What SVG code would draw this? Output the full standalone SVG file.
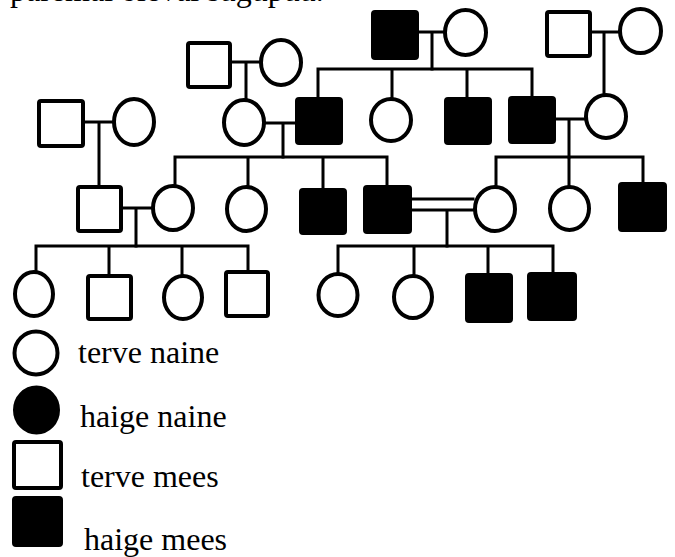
<svg xmlns="http://www.w3.org/2000/svg" width="675" height="557" viewBox="0 0 675 557">
  <style>
    .f { fill: #fff; stroke: #000; stroke-width: 4; }
    .a { fill: #000; stroke: #000; stroke-width: 4; }
    .m { fill: #fff; stroke: #000; stroke-width: 4; }
    .ma { fill: #000; stroke: #000; stroke-width: 4; }
    .ln { stroke: #000; stroke-width: 3; fill: none; stroke-linecap: square; }
    .t { font-family: "Liberation Serif", "Times New Roman", serif; font-size: 32px; fill: #000; }
  </style>
  <rect width="675" height="557" fill="#fff"/>

  <!-- heading line, cut off at the top edge -->
  <text class="t" x="10" y="1">paremal oleval sugupuu.</text>

  <!-- connectors -->
  <g id="connectors">
    <!-- generation I couples -->
    <path class="ln" d="M419 32H443M432 32V69"/>
    <path class="ln" d="M592 32H618M604 32V93"/>
    <path class="ln" d="M232 62H259M246 62V98"/>
    <path class="ln" d="M85 122H112M99 122V185"/>
    <!-- sibship of the top couple -->
    <path class="ln" d="M318 69H532M318 69V97M392 69V97M467 69V97M532 69V96"/>
    <!-- generation II couples and sibships -->
    <path class="ln" d="M266 123H295M283 123V157"/>
    <path class="ln" d="M175 157H387M175 157V184M248 157V185M323 157V188M387 157V185"/>
    <path class="ln" d="M556 119H584M569 119V157"/>
    <path class="ln" d="M496 157H643M496 157V185M569 157V185M643 157V182"/>
    <!-- generation III couples and sibships -->
    <path class="ln" d="M123 208H151M136 208V246"/>
    <path class="ln" d="M36 246H248M36 246V270M109 246V274M182 246V274M248 246V270"/>
    <!-- consanguineous marriage -->
    <path class="ln" d="M412 199H473M412 210H473M447 210V246"/>
    <path class="ln" d="M338 246H553M338 246V272M414 246V274M488 246V273M553 246V272"/>
  </g>

  <!-- generation I -->
  <g id="m1"><rect class="ma" x="373" y="12" width="44" height="46" rx="2"/></g>
  <g id="f1"><ellipse class="f" cx="465.5" cy="32.5" rx="20.5" ry="22.5"/></g>
  <g id="m2"><rect class="m" x="547" y="12" width="43" height="44" rx="2"/></g>
  <g id="f2"><ellipse class="f" cx="640.5" cy="31" rx="20.5" ry="22"/></g>
  <g id="m3"><rect class="m" x="188" y="43" width="42" height="44" rx="2"/></g>
  <g id="f3"><ellipse class="f" cx="281" cy="62.5" rx="20" ry="22.5"/></g>
  <g id="m4"><rect class="m" x="39" y="101" width="44" height="45" rx="2"/></g>
  <g id="f4"><ellipse class="f" cx="134" cy="122" rx="20" ry="23"/></g>

  <!-- generation II -->
  <g id="f5"><ellipse class="f" cx="244" cy="122.5" rx="20" ry="22.5"/></g>
  <g id="m5"><rect class="ma" x="297" y="99" width="44" height="44" rx="2"/></g>
  <g id="f6"><ellipse class="f" cx="391" cy="120" rx="20" ry="21"/></g>
  <g id="m6"><rect class="ma" x="446" y="99" width="44" height="44" rx="2"/></g>
  <g id="m7"><rect class="ma" x="510" y="98" width="44" height="44" rx="2"/></g>
  <g id="f7"><ellipse class="f" cx="606" cy="116.5" rx="20" ry="21.5"/></g>

  <!-- generation III -->
  <g id="m8"><rect class="m" x="78" y="187" width="43" height="44" rx="2"/></g>
  <g id="f8"><ellipse class="f" cx="173" cy="208" rx="20" ry="22"/></g>
  <g id="f9"><ellipse class="f" cx="246.5" cy="209" rx="19.5" ry="22"/></g>
  <g id="m9"><rect class="ma" x="301" y="190" width="44" height="43" rx="2"/></g>
  <g id="m10"><rect class="ma" x="365" y="187" width="45" height="45" rx="2"/></g>
  <g id="f10"><ellipse class="f" cx="495" cy="209" rx="20" ry="22"/></g>
  <g id="f11"><ellipse class="f" cx="569.5" cy="208.5" rx="19.5" ry="21.5"/></g>
  <g id="m11"><rect class="ma" x="620" y="184" width="45" height="46" rx="2"/></g>

  <!-- generation IV -->
  <g id="f12"><ellipse class="f" cx="34" cy="294" rx="19" ry="22"/></g>
  <g id="m12"><rect class="m" x="88" y="276" width="43" height="43" rx="2"/></g>
  <g id="f13"><ellipse class="f" cx="183" cy="297.5" rx="19" ry="21.5"/></g>
  <g id="m13"><rect class="m" x="226" y="272" width="42" height="44" rx="2"/></g>
  <g id="f14"><ellipse class="f" cx="338" cy="295" rx="19.5" ry="21"/></g>
  <g id="f15"><ellipse class="f" cx="413" cy="297" rx="19" ry="21"/></g>
  <g id="m14"><rect class="ma" x="467" y="275" width="44" height="46" rx="2"/></g>
  <g id="m15"><rect class="ma" x="529" y="274" width="46" height="45" rx="2"/></g>

  <!-- legend -->
  <g id="legend">
    <ellipse class="f" cx="36" cy="353" rx="21.5" ry="21.5"/>
    <text class="t" x="78" y="363">terve naine</text>
    <ellipse class="a" cx="36.5" cy="410" rx="21.5" ry="22.5"/>
    <text class="t" x="80" y="427">haige naine</text>
    <rect class="m" x="14" y="442" width="47" height="46" rx="2"/>
    <text class="t" x="81" y="487">terve mees</text>
    <rect class="ma" x="14" y="498" width="47" height="47" rx="2"/>
    <text class="t" x="84" y="550">haige mees</text>
  </g>
</svg>
